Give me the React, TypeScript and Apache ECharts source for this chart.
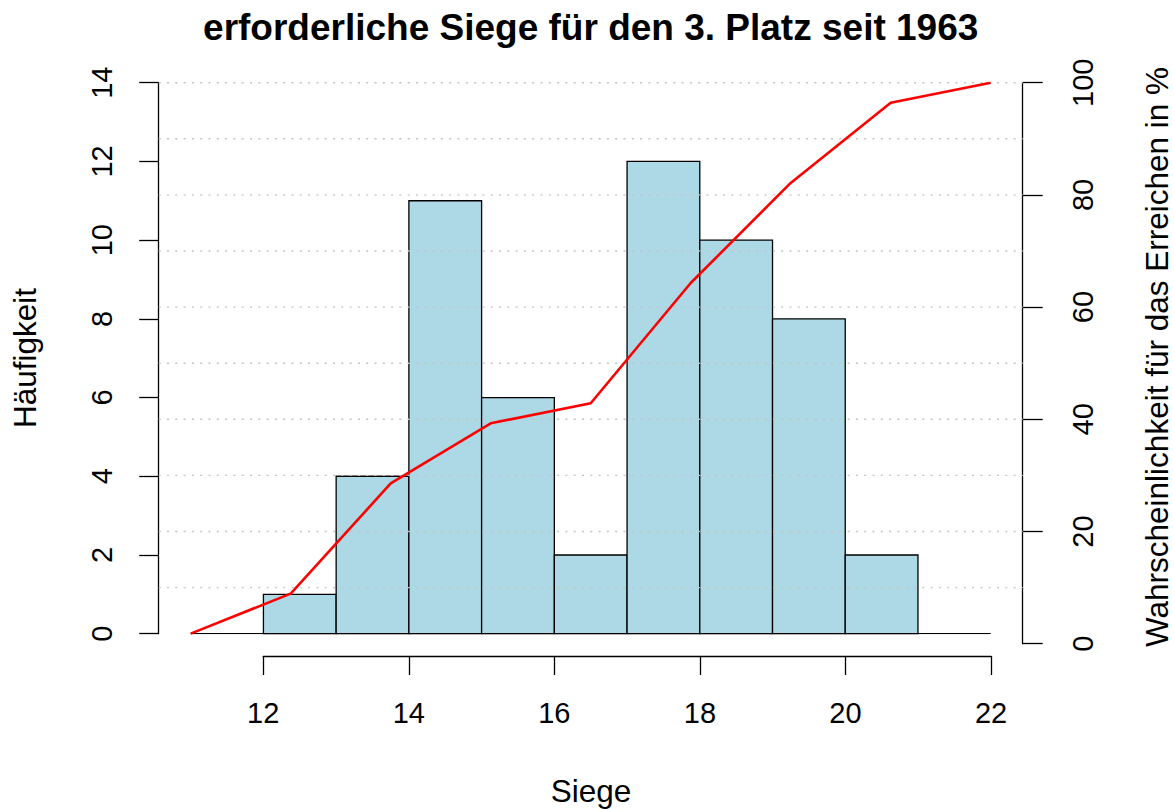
import React, { useEffect, useRef } from "react";
import * as echarts from "echarts";

// ---- data ----
const binStarts = [12, 13, 14, 15, 16, 17, 18, 19, 20];
const binEnds = [13, 14, 15, 16, 17, 18, 19, 20, 21];
const counts = [1, 4, 11, 6, 2, 12, 10, 8, 2];
const lineX = [11, 12.375, 13.75, 15.125, 16.5, 17.875, 19.25, 20.625, 22];
const cumPercent = [1.79, 8.93, 28.57, 39.29, 42.86, 64.29, 82.14, 96.43, 100];
const baselineX = [11, 22];
const gridValues = [10, 20, 30, 40, 50, 60, 70, 80, 90, 100];
const xTicks = [12, 14, 16, 18, 20, 22];
const leftTicks = [0, 2, 4, 6, 8, 10, 12, 14];
const rightTicks = [0, 20, 40, 60, 80, 100];

const FONT = "'Liberation Sans', Arial, Helvetica, sans-serif";
const FS = 29;
const FS_LAB = 31.5;
const FS_TITLE = 37;

export default function App() {
  const ref = useRef<HTMLDivElement>(null);

  useEffect(() => {
    if (!ref.current) return;
    const chart = echarts.init(ref.current, null, { renderer: "svg" });

    const xMin = 10.56;
    const xMax = 22.44;
    const axisColor = "#000";

    const option: any = {
      animation: false,
      backgroundColor: "#fff",
      textStyle: { fontFamily: FONT },
      grid: [
        { left: 158.7, width: 864, top: 82.7, height: 551 },
        { left: 158.7, width: 864, top: 82.7, height: 561 },
        { left: 263.2, width: 727.8, top: 646, height: 10 },
      ],
      xAxis: [
        { type: "value", gridIndex: 0, min: xMin, max: xMax, show: false },
        { type: "value", gridIndex: 1, min: xMin, max: xMax, show: false },
        {
          type: "value",
          gridIndex: 2,
          min: xTicks[0],
          max: xTicks[xTicks.length - 1],
          interval: 2,
          position: "bottom",
          axisLine: { show: true, lineStyle: { color: axisColor, width: 1.3 } },
          axisTick: { show: true, length: 19, lineStyle: { color: axisColor, width: 1.3 } },
          axisLabel: { show: true, color: "#000", fontSize: FS, fontFamily: FONT, margin: 42 },
          splitLine: { show: false },
        },
      ],
      yAxis: [
        {
          type: "value",
          gridIndex: 0,
          min: leftTicks[0],
          max: leftTicks[leftTicks.length - 1],
          interval: 2,
          position: "left",
          axisLine: { show: true, lineStyle: { color: axisColor, width: 1.3 } },
          axisTick: { show: true, length: 19.5, lineStyle: { color: axisColor, width: 1.3 } },
          axisLabel: { show: true, rotate: 90, color: "#000", fontSize: FS, fontFamily: FONT, margin: 42.5 },
          splitLine: { show: false },
        },
        {
          type: "value",
          gridIndex: 1,
          min: rightTicks[0],
          max: rightTicks[rightTicks.length - 1],
          interval: 20,
          position: "right",
          axisLine: { show: true, lineStyle: { color: axisColor, width: 1.3 } },
          axisTick: { show: true, length: 20, lineStyle: { color: axisColor, width: 1.3 } },
          axisLabel: { show: true, rotate: 90, color: "#000", fontSize: FS, fontFamily: FONT, margin: 46 },
          splitLine: { show: false },
        },
        { type: "value", gridIndex: 2, min: 0, max: 1, show: false },
      ],
      series: [
        {
          type: "custom",
          xAxisIndex: 0,
          yAxisIndex: 0,
          z: 2,
          silent: true,
          data: counts.map((c, i) => [binStarts[i], binEnds[i], c]),
          encode: { x: [0, 1], y: 2 },
          renderItem: (params: any, api: any) => {
            const x0 = api.value(0);
            const x1 = api.value(1);
            const c = api.value(2);
            const p0 = api.coord([x0, 0]);
            const p1 = api.coord([x1, c]);
            return {
              type: "rect",
              shape: { x: p0[0], y: p1[1], width: p1[0] - p0[0], height: p0[1] - p1[1] },
              style: { fill: "#ADD8E6", stroke: "#000", lineWidth: 1.3 },
            };
          },
        },
        {
          type: "line",
          xAxisIndex: 0,
          yAxisIndex: 0,
          z: 3,
          silent: true,
          symbol: "none",
          data: baselineX.map((x) => [x, 0]),
          lineStyle: { color: "#000", width: 1.3 },
        },
        {
          type: "custom",
          xAxisIndex: 1,
          yAxisIndex: 1,
          z: 4,
          silent: true,
          data: gridValues.map((v) => [v]),
          renderItem: (params: any, api: any) => {
            const v = api.value(0);
            const y = api.coord([xMin, v])[1];
            const cs = params.coordSys;
            return {
              type: "line",
              shape: { x1: cs.x, y1: y, x2: cs.x + cs.width, y2: y },
              style: { stroke: "#c4c4c4", lineWidth: 1.4, lineDash: [2, 6.3] },
            };
          },
        },
        {
          type: "line",
          xAxisIndex: 1,
          yAxisIndex: 1,
          z: 5,
          silent: true,
          symbol: "none",
          data: lineX.map((x, i) => [x, cumPercent[i]]),
          lineStyle: { color: "#FF0000", width: 2.6 },
        },
      ],
      graphic: [
        {
          type: "text",
          x: 590.7,
          y: 27,
          style: {
            text: "erforderliche Siege für den 3. Platz seit 1963",
            fontFamily: FONT,
            fontWeight: "bold",
            fontSize: FS_TITLE,
            fill: "#000",
            textAlign: "center",
            textVerticalAlign: "middle",
          },
        },
        {
          type: "text",
          x: 591,
          y: 791,
          style: {
            text: "Siege",
            fontFamily: FONT,
            fontSize: FS_LAB,
            fill: "#000",
            textAlign: "center",
            textVerticalAlign: "middle",
          },
        },
        {
          type: "text",
          x: 25,
          y: 358,
          rotation: Math.PI / 2,
          style: {
            text: "Häufigkeit",
            fontFamily: FONT,
            fontSize: FS_LAB,
            fill: "#000",
            textAlign: "center",
            textVerticalAlign: "middle",
          },
        },
        {
          type: "text",
          x: 1157,
          y: 357,
          rotation: Math.PI / 2,
          style: {
            text: "Wahrscheinlichkeit für das Erreichen in %",
            fontFamily: FONT,
            fontSize: FS_LAB,
            fill: "#000",
            textAlign: "center",
            textVerticalAlign: "middle",
          },
        },
      ],
    };

    chart.setOption(option);
    return () => chart.dispose();
  }, []);

  return (
    <div
      ref={ref}
      style={{ position: "absolute", left: 0, top: 0, width: 1174, height: 809, background: "#fff" }}
    />
  );
}
